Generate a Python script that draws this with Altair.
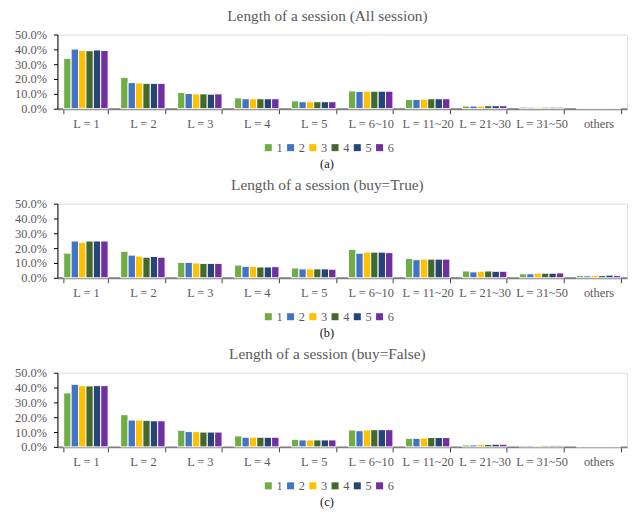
import altair as alt
import pandas as pd

categories = ["L = 1", "L = 2", "L = 3", "L = 4", "L = 5", "L = 6~10",
              "L = 11~20", "L = 21~30", "L = 31~50", "others"]
series = ["1", "2", "3", "4", "5", "6"]
colors = ["#70AD47", "#4472C4", "#FFC000", "#43682B", "#264478", "#7030A0"]

# values in percent, one list per series (1..6), one entry per category
all_session = [
    [34.0, 21.1, 10.9, 7.3, 5.3, 12.0, 6.2, 1.8, 1.1, 0.3],
    [40.2, 17.6, 10.2, 6.7, 4.7, 11.6, 6.2, 1.8, 1.0, 0.3],
    [39.3, 17.3, 10.0, 6.7, 4.7, 11.8, 6.4, 1.8, 1.0, 0.3],
    [39.1, 17.1, 10.0, 6.7, 4.7, 11.8, 6.7, 2.0, 1.0, 0.3],
    [39.6, 17.1, 9.8, 6.7, 4.7, 11.8, 6.7, 2.0, 1.0, 0.3],
    [39.3, 17.1, 10.0, 6.7, 4.7, 11.8, 6.7, 2.0, 1.0, 0.3],
]
buy_true = [
    [16.6, 17.9, 10.4, 8.6, 6.6, 19.2, 13.1, 4.6, 2.7, 1.5],
    [24.8, 15.3, 10.4, 7.7, 6.0, 16.6, 12.2, 4.0, 2.7, 1.3],
    [23.9, 14.6, 10.0, 7.7, 6.0, 17.3, 12.6, 4.4, 3.1, 1.5],
    [24.8, 13.9, 9.7, 7.3, 6.0, 17.3, 12.6, 4.6, 3.1, 1.5],
    [24.8, 14.4, 9.7, 7.3, 6.0, 17.3, 12.6, 4.4, 3.1, 1.8],
    [24.8, 13.9, 9.7, 7.5, 5.8, 17.0, 12.6, 4.4, 3.3, 1.5],
]
buy_false = [
    [36.4, 21.7, 11.2, 7.4, 5.1, 11.4, 5.8, 1.3, 0.9, 0.2],
    [42.2, 18.1, 10.3, 6.5, 4.7, 10.9, 5.8, 1.3, 0.8, 0.2],
    [41.3, 18.1, 10.3, 6.5, 4.7, 11.4, 6.0, 1.6, 0.8, 0.2],
    [41.1, 17.9, 10.0, 6.5, 4.7, 11.6, 6.3, 1.6, 0.8, 0.2],
    [41.3, 17.6, 10.0, 6.5, 4.7, 11.6, 6.3, 1.8, 0.8, 0.2],
    [41.3, 17.6, 10.0, 6.5, 4.7, 11.6, 6.3, 1.8, 0.8, 0.2],
]
titles = ["Length of a session (All session)",
          "Length of a session (buy=True)",
          "Length of a session (buy=False)"]
captions = ["(a)", "(b)", "(c)"]

FONT = "Liberation Serif"
GRAY = "#595959"


def make_df(vals):
    rows = []
    for s, row in zip(series, vals):
        for c, v in zip(categories, row):
            rows.append({"cat": c, "series": s, "value": v / 100.0})
    return pd.DataFrame(rows)


def panel(vals, title, caption):
    df = make_df(vals)
    return alt.Chart(df).mark_bar(stroke="white", strokeWidth=1).encode(
        x=alt.X("cat:N", sort=categories,
                scale=alt.Scale(paddingInner=0.22, paddingOuter=0.11),
                axis=alt.Axis(title=caption, labelAngle=0, tickBand="extent",
                              domainColor="#7F7F7F", domainWidth=2,
                              tickColor="#404040", tickSize=5, tickWidth=1,
                              labelFont=FONT, labelFontSize=12.5, labelColor=GRAY,
                              labelPadding=4,
                              titleFont=FONT, titleFontSize=12.5, titleColor="#111111",
                              titleFontWeight="normal", titleX=272, titleY=55,
                              titleBaseline="middle", titleAlign="center")),
        xOffset=alt.XOffset("series:N", sort=series,
                            scale=alt.Scale(paddingInner=0, paddingOuter=0)),
        y=alt.Y("value:Q", scale=alt.Scale(domain=[0, 0.5], nice=False),
                axis=alt.Axis(title=None, format=".1%", values=[0, 0.1, 0.2, 0.3, 0.4, 0.5],
                              grid=False, domainColor="black", tickColor="black",
                              tickSize=4, labelFont=FONT, labelFontSize=12.5,
                              labelColor=GRAY, labelPadding=7,
                              minExtent=49, maxExtent=49)),
        color=alt.Color("series:N", sort=series,
                        scale=alt.Scale(domain=series, range=colors),
                        legend=alt.Legend(orient="none", legendX=207, legendY=108,
                                          direction="horizontal", title=None,
                                          symbolType="square", symbolSize=50,
                                          symbolStrokeWidth=0,
                                          labelFont=FONT, labelFontSize=12.5,
                                          labelColor=GRAY, labelOffset=2,
                                          columnPadding=1.5)),
    ).properties(
        width=576, height=75,
        title=alt.TitleParams(title, font=FONT, fontSize=15.5, color=GRAY,
                              fontWeight="normal", anchor="middle", dx=-15, offset=4),
    )


chart = alt.vconcat(
    *[panel(v, t, c) for v, t, c in zip([all_session, buy_true, buy_false], titles, captions)],
    spacing=96, bounds="flush",
).resolve_scale(color="independent").properties(
    padding={"left": 0, "right": 0, "top": -2, "bottom": 0},
).configure_view(stroke=None).configure(background="white")

chart.save("out.html", embed_options={"renderer": "svg", "actions": False})
